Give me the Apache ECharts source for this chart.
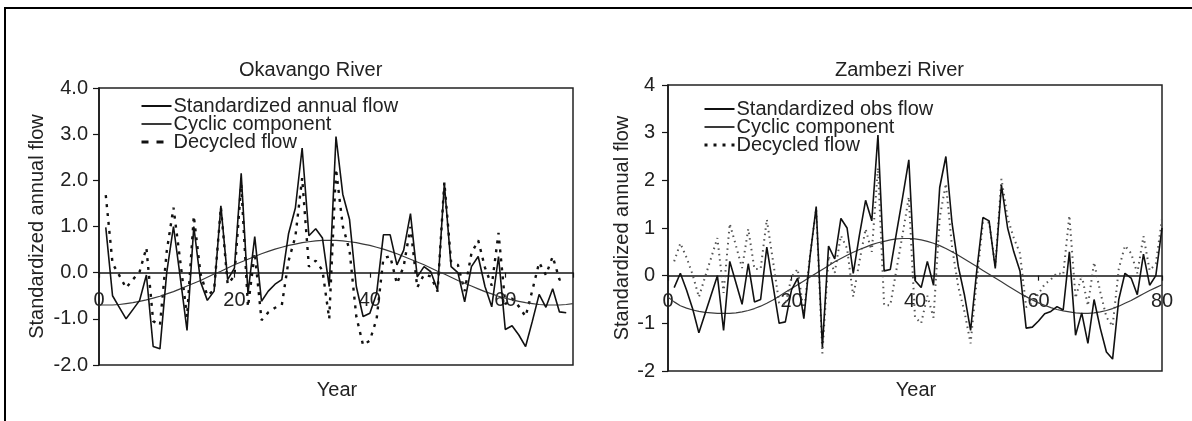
<!DOCTYPE html>
<html><head><meta charset="utf-8">
<script src="https://cdn.jsdelivr.net/npm/echarts@6/dist/echarts.min.js"></script>
<style>html,body{margin:0;padding:0;background:#fff}#c{width:1192px;height:421px}</style>
</head><body><div id="c"></div>
<script>
// ---------- texts ----------
const okTitle = 'Okavango River';
const zaTitle = 'Zambezi River';
const yName = 'Standardized annual flow';
const xName = 'Year';
const okLabels = ['Standardized annual flow', 'Cyclic component', 'Decycled flow'];
const zaLabels = ['Standardized obs flow', 'Cyclic component', 'Decycled flow'];

// ---------- tick labels ----------
const okXTicks = [0, 20, 40, 60];
const zaXTicks = [0, 20, 40, 60, 80];
const okYTicks = ['-2.0', '-1.0', '0.0', '1.0', '2.0', '3.0', '4.0'];
const zaYTicks = ['-2', '-1', '0', '1', '2', '3', '4'];

// ---------- Okavango (years 1..69; cyclic 0..70) ----------
const okFlow = [0.98, -0.5, -0.75, -1.0, -0.8, -0.6, -0.05, -1.6, -1.65, 0.0,
  1.0, -0.1, -1.25, 1.0, -0.2, -0.6, -0.4, 1.45, -0.15, 0.1,
  2.15, -0.45, 0.78, -0.62, -0.4, -0.25, -0.15, 0.85, 1.4, 2.7,
  0.8, 0.95, 0.75, -0.3, 2.95, 1.7, 1.15, -0.3, -0.95, -0.88,
  -0.45, 0.82, 0.82, 0.17, 0.49, 1.28, -0.09, 0.13, 0.02, -0.38,
  1.93, 0.13, 0.0, -0.63, 0.13, 0.35, -0.3, -0.74, 0.35, -1.23,
  -1.15, -1.35, -1.6, -1.05, -0.47, -0.75, -0.35, -0.85, -0.87];
const okCyclic = [-0.70, -0.70, -0.70, -0.69, -0.67, -0.65, -0.62, -0.59, -0.55, -0.51, -0.46,
  -0.41, -0.35, -0.29, -0.23, -0.17, -0.10, -0.03, 0.03, 0.10, 0.17,
  0.23, 0.29, 0.35, 0.41, 0.46, 0.51, 0.55, 0.59, 0.62, 0.65,
  0.67, 0.69, 0.70, 0.70, 0.70, 0.69, 0.67, 0.65, 0.62, 0.59,
  0.55, 0.51, 0.46, 0.41, 0.35, 0.29, 0.23, 0.17, 0.10, 0.03,
  -0.03, -0.10, -0.17, -0.23, -0.29, -0.35, -0.41, -0.46, -0.51, -0.55,
  -0.59, -0.62, -0.65, -0.67, -0.69, -0.70, -0.70, -0.70, -0.69, -0.67];
const okDecycled = [1.68, 0.20, -0.06, -0.33, -0.15, 0.02, 0.54, -1.05, -1.14, 0.46,
  1.41, 0.25, -0.96, 1.23, -0.03, -0.50, -0.37, 1.42, -0.25, -0.07,
  1.92, -0.74, 0.43, -1.03, -0.86, -0.76, -0.70, 0.26, 0.78, 2.05,
  0.13, 0.26, 0.05, -1.00, 2.25, 1.01, 0.48, -0.95, -1.57, -1.47,
  -1.00, 0.31, 0.36, -0.24, 0.14, 0.99, -0.32, -0.04, -0.08, -0.41,
  1.96, 0.23, 0.17, -0.40, 0.42, 0.70, 0.11, -0.28, 0.86, -0.68,
  -0.56, -0.73, -0.95, -0.38, 0.22, -0.05, 0.35, -0.15, -0.18];

// ---------- Zambezi (years 1..80; cyclic 0..80) ----------
const zaFlow = [-0.25, 0.05, -0.3, -0.7, -1.2, -0.8, -0.4, 0.0, -1.15, 0.3,
  -0.15, -0.6, 0.25, -0.55, -0.5, 0.6, -0.2, -1.0, -0.97, -0.3,
  -0.05, -0.9, 0.4, 1.45, -1.5, 0.62, 0.35, 1.2, 1.0, 0.05,
  0.85, 1.58, 1.15, 2.95, 0.1, 0.13, 0.9, 1.65, 2.43, -0.1,
  -0.25, 0.3, -0.2, 1.85, 2.5, 1.1, 0.2, -0.4, -1.15, 0.1,
  1.22, 1.15, 0.15, 1.9, 1.0, 0.5, 0.1, -1.1, -1.08, -0.95,
  -0.8, -0.75, -0.65, -0.72, 0.5, -1.25, -0.78, -1.42, -0.5, -1.1,
  -1.6, -1.75, -0.5, 0.05, -0.05, -0.4, 0.45, -0.2, 0.0, 1.0];
const zaCyclic = [-0.45, -0.55, -0.63, -0.68, -0.72, -0.75, -0.77, -0.78, -0.79, -0.79,
  -0.79, -0.78, -0.76, -0.73, -0.69, -0.64, -0.58, -0.51, -0.43, -0.35,
  -0.27, -0.19, -0.11, -0.03, 0.05, 0.13, 0.21, 0.29, 0.36, 0.43,
  0.49, 0.55, 0.60, 0.65, 0.69, 0.72, 0.75, 0.77, 0.78, 0.78,
  0.77, 0.75, 0.72, 0.68, 0.63, 0.57, 0.50, 0.43, 0.35, 0.27,
  0.19, 0.11, 0.03, -0.05, -0.13, -0.21, -0.29, -0.37, -0.44, -0.51,
  -0.57, -0.62, -0.67, -0.71, -0.74, -0.76, -0.78, -0.79, -0.79, -0.78,
  -0.76, -0.73, -0.69, -0.64, -0.58, -0.52, -0.45, -0.38, -0.31, -0.25, -0.19];
const zaDecycled = [0.30, 0.68, 0.38, 0.02, -0.45, -0.03, 0.38, 0.79, -0.36, 1.09,
  0.63, 0.16, 0.98, 0.14, 0.14, 1.18, 0.31, -0.57, -0.62, -0.03,
  0.14, -0.79, 0.43, 1.40, -1.63, 0.41, 0.06, 0.84, 0.57, -0.44,
  0.30, 0.98, 0.50, 2.26, -0.62, -0.62, 0.13, 0.87, 1.65, -0.87,
  -1.00, -0.42, -0.88, 1.22, 1.93, 0.60, -0.23, -0.75, -1.42, -0.09,
  1.11, 1.12, 0.20, 2.03, 1.21, 0.79, 0.47, -0.66, -0.57, -0.38,
  -0.18, -0.08, 0.06, 0.02, 1.26, -0.47, 0.01, -0.63, 0.28, -0.34,
  -0.87, -1.06, 0.14, 0.63, 0.47, 0.05, 0.83, 0.11, 0.25, 1.19];

// ---------- build ----------
const FONT = 'Liberation Sans, Arial, Helvetica, sans-serif';
const INK = '#151515';
const FS = 20;
function pairs(ys, firstYear) { return ys.map((v, i) => [firstYear + i, v]); }

const nameMap = {
  okF: okLabels[0], okC: okLabels[1], okD: okLabels[2],
  zaF: zaLabels[0], zaC: zaLabels[1], zaD: zaLabels[2]
};

function xAxis(gi, max, ticks, margin) {
  return {
    type: 'value', gridIndex: gi, min: 0, max: max, interval: 20,
    axisLine: { show: true, onZero: true, lineStyle: { color: INK, width: 1.5 } },
    axisTick: { show: true, length: 5, lineStyle: { color: INK, width: 1.2 } },
    axisLabel: { color: '#222', fontSize: FS, fontFamily: FONT, margin: margin,
      formatter: v => (ticks.indexOf(v) >= 0 ? String(v) : '') },
    splitLine: { show: false }
  };
}
function yAxis(gi, labels, nameGap, margin) {
  return {
    type: 'value', gridIndex: gi, min: -2, max: 4, interval: 1,
    name: yName, nameLocation: 'middle', nameGap: nameGap,
    nameTextStyle: { color: '#222', fontSize: FS, fontFamily: FONT },
    axisLine: { show: true, lineStyle: { color: INK, width: 1.5 } },
    axisTick: { show: true, length: 6, lineStyle: { color: INK, width: 1.2 } },
    axisLabel: { color: '#222', fontSize: FS, fontFamily: FONT, margin: margin,
      formatter: v => labels[v + 2] },
    splitLine: { show: false }
  };
}
function line(id, gi, data, style, z) {
  return { id: id, name: id, type: 'line', xAxisIndex: gi, yAxisIndex: gi, data: data,
    symbol: 'none', smooth: false, silent: true, z: z, lineStyle: style,
    itemStyle: { color: style.color }, animation: false };
}
function legend(items, left, top) {
  return {
    data: items, orient: 'vertical', left: left, top: top, itemWidth: 30, itemHeight: 10,
    itemGap: -2, selectedMode: false, padding: 0,
    itemStyle: { opacity: 0 },
    textStyle: { color: '#222', fontSize: FS, lineHeight: 18, fontFamily: FONT, padding: [0, 0, 0, -3] },
    formatter: n => nameMap[n]
  };
}

const chart = echarts.init(document.getElementById('c'), null, { renderer: 'canvas' });
chart.setOption({
  backgroundColor: '#fff',
  animation: false,
  title: [
    { text: okTitle, left: 234, top: 55,
      textStyle: { color: '#222', fontSize: FS, fontWeight: 'normal', fontFamily: FONT } },
    { text: zaTitle, left: 830, top: 55,
      textStyle: { color: '#222', fontSize: FS, fontWeight: 'normal', fontFamily: FONT } }
  ],
  grid: [
    { left: 99, top: 88, width: 474, height: 277, show: true, borderColor: '#222', borderWidth: 1.5 },
    { left: 668, top: 85, width: 494, height: 286, show: true, borderColor: '#222', borderWidth: 1.5 }
  ],
  xAxis: [xAxis(0, 70, okXTicks, -75), xAxis(1, 80, zaXTicks, -80)],
  yAxis: [yAxis(0, okYTicks, 52, 11), yAxis(1, zaYTicks, 36, 13)],
  legend: [
    legend([{ name: 'okF' }, { name: 'okC' },
      { name: 'okD', lineStyle: { type: [7, 8], width: 3 } }], 140, 96),
    legend([{ name: 'zaF' }, { name: 'zaC' },
      { name: 'zaD', lineStyle: { type: [3, 6], width: 3, color: '#111' } }], 703, 99)
  ],
  graphic: [
    { type: 'polyline', shape: { points: [[1192, 8], [5, 8], [5, 421]] },
      style: { stroke: '#000', lineWidth: 2, fill: null }, silent: true },
    { type: 'text', x: 337, y: 390, style: { text: xName, textAlign: 'center', textVerticalAlign: 'middle',
      font: FS + 'px ' + FONT, fill: '#222' }, silent: true },
    { type: 'text', x: 916, y: 390, style: { text: xName, textAlign: 'center', textVerticalAlign: 'middle',
      font: FS + 'px ' + FONT, fill: '#222' }, silent: true }
  ],
  series: [
    line('okD', 0, pairs(okDecycled, 1), { color: '#111', width: 2.4, type: [3, 6] }, 2),
    line('okC', 0, pairs(okCyclic, 0), { color: '#3a3a3a', width: 1.2, type: 'solid' }, 3),
    line('okF', 0, pairs(okFlow, 1), { color: '#111', width: 1.6, type: 'solid' }, 4),
    line('zaD', 1, pairs(zaDecycled, 1), { color: '#555', width: 2, type: [1.5, 4] }, 2),
    line('zaC', 1, pairs(zaCyclic, 0), { color: '#3a3a3a', width: 1.2, type: 'solid' }, 3),
    line('zaF', 1, pairs(zaFlow, 1), { color: '#111', width: 1.6, type: 'solid' }, 4)
  ]
});
</script>
</body></html>
